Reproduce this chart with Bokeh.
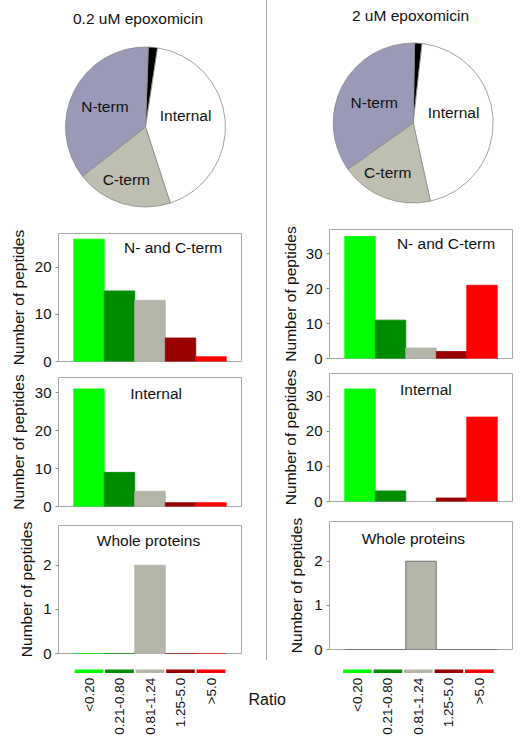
import math
from bokeh.plotting import figure
from bokeh.layouts import row, column
from bokeh.models import Range1d, FixedTicker, Div
from bokeh.core.properties import value
from bokeh.embed import file_html
from bokeh.resources import INLINE

FONT = "Liberation Sans"

# ---------------- data ----------------
ratio_bins = ["<0.20", "0.21-0.80", "0.81-1.24", "1.25-5.0", ">5.0"]
bin_colors = ["#00FF00", "#008C00", "#B4B4A9", "#990000", "#FF0000"]

titles = ["0.2 uM epoxomicin", "2 uM epoxomicin"]

# pie slices, clockwise from the top
pie_names = ["Whole proteins", "Internal", "C-term", "N-term"]
pie_shown = ["", "Internal", "C-term", "N-term"]
pie_colors = ["#000000", "#FFFFFF", "#BEBEB1", "#9A9AB8"]
pie_low = [2, 46, 21, 39]
pie_high = [2, 60, 25, 47]

panel_names = ["N- and C-term", "Internal", "Whole proteins"]
nc_low = [26, 15, 13, 5, 1]
internal_low = [31, 9, 4, 1, 1]
whole_low = [0, 0, 2, 0, 0]
nc_high = [35, 11, 3, 2, 21]
internal_high = [32, 3, 0, 1, 24]
whole_high = [0, 0, 2, 0, 0]

y_label = "Number of peptides"
x_label = "Ratio"

TXT = "#111111"

# ---------------- helpers ----------------
def make_pie(w, h, bl, br, cx, cy, r, start_deg, counts, title, title_xy,
             lab_frac, lab_nudge):
    p = figure(width=w, height=h, x_range=Range1d(bl, w - br), y_range=Range1d(0, h),
               min_border_left=bl, min_border_right=br, min_border_top=0,
               min_border_bottom=0, x_axis_type=None, y_axis_type=None,
               toolbar_location=None, output_backend="svg", outline_line_color=None)
    total = float(sum(counts))
    k = 2 * math.pi / total
    th0 = math.radians(90 + start_deg)
    starts, ends = [], []
    cum = 0
    for c in counts:
        starts.append(th0 - cum * k)
        cum += c
        ends.append(th0 - cum * k)
    p.wedge(x=cx, y=cy, radius=r, start_angle=starts, end_angle=ends,
            direction="clock", fill_color=pie_colors, line_color="#8A8A8A",
            line_width=0.8)
    lx, ly, lt = [], [], []
    for i, name in enumerate(pie_shown):
        if not name:
            continue
        mid = (starts[i] + ends[i]) / 2 + math.radians(lab_nudge[i])
        lx.append(cx + lab_frac[i] * r * math.cos(mid))
        ly.append(cy + lab_frac[i] * r * math.sin(mid))
        lt.append(name)
    p.text(x=lx, y=ly, text=lt, text_font=value(FONT), text_font_size="15.5px",
           text_align="center", text_baseline="middle", text_color=TXT)
    p.text(x=[title_xy[0]], y=[title_xy[1]], text=[title], text_font=value(FONT),
           text_font_size="15.5px", text_align="center", text_baseline="middle",
           text_color=TXT)
    return p


def make_bar(w, h, bl, br, bt, bb, counts, ymax, ticks, label, label_xy,
             standoff, line_colors=None):
    p = figure(width=w, height=h, x_range=Range1d(0, 6), y_range=Range1d(0, ymax),
               min_border_left=bl, min_border_right=br, min_border_top=bt,
               min_border_bottom=bb, x_axis_type=None, toolbar_location=None,
               output_backend="svg")
    p.outline_line_color = "#A8A8A8"
    p.outline_line_width = 1
    p.grid.visible = False
    ax = p.yaxis[0]
    ax.ticker = FixedTicker(ticks=ticks)
    ax.minor_tick_line_color = None
    ax.axis_line_color = None
    ax.major_tick_out = 3
    ax.major_tick_in = 0
    ax.major_tick_line_color = "#909090"
    ax.major_label_standoff = 4
    ax.major_label_text_font = FONT
    ax.major_label_text_font_size = "15px"
    ax.major_label_text_color = TXT
    ax.axis_label = y_label
    ax.axis_label_text_font = FONT
    ax.axis_label_text_font_size = "15.5px"
    ax.axis_label_text_font_style = "normal"
    ax.axis_label_text_color = TXT
    ax.axis_label_standoff = standoff
    xs = [i + 1 for i in range(len(counts))]
    p.vbar(x=xs, top=counts, bottom=0, width=1, fill_color=bin_colors,
           line_color=line_colors if line_colors else bin_colors, line_width=0.8)
    p.text(x=[label_xy[0]], y=[label_xy[1]], text=[label], text_font=value(FONT),
           text_font_size="15.5px", text_align="center", text_baseline="middle",
           text_color=TXT)
    return p

# ---------------- left column ----------------
LW, RW = 266, 258
LBL, LBR = 58, 25
RBL, RBR = 62, 13
lp = make_pie(LW, 222, LBL, LBR, 145, 95.5, 80, -2, pie_low, titles[0], (137.5, 204),
              [0, 0.52, 0.70, 0.57], [0, 11, -3, 0])
lb1 = make_bar(LW, 147, LBL, LBR, 11, 8, nc_low, 27.2, [0, 10, 20],
               panel_names[0], (3.76, 24.2), 5)
lb2 = make_bar(LW, 146, LBL, LBR, 8, 9, internal_low, 34, [0, 10, 20, 30],
               panel_names[1], (3.2, 29.8), 5)
lb3 = make_bar(LW, 147, LBL, LBR, 10, 9, whole_low, 2.9, [0, 1, 2],
               panel_names[2], (2.95, 2.56), 5)
left_col = column(lp, lb1, lb2, lb3)

# ---------------- right column ----------------
rp = make_pie(RW, 220, RBL, RBR, 145.7, 97.5, 80, -1, pie_high, titles[1], (143, 205),
              [0, 0.52, 0.70, 0.55], [0, 11, -6, 0])
rb1 = make_bar(RW, 146, RBL, RBR, 9, 8, nc_high, 37, [0, 10, 20, 30],
               panel_names[0], (3.82, 32.9), 4)
rb2 = make_bar(RW, 143, RBL, RBR, 7, 8, internal_high, 36.4, [0, 10, 20, 30],
               panel_names[1], (3.16, 31.9), 4)
rb3 = make_bar(RW, 153, RBL, RBR, 12, 13, whole_high, 2.9, [0, 1, 2],
               panel_names[2], (2.75, 2.51), 6,
               line_colors=["#5A5A5A"] * 5)
right_col = column(rp, rb1, rb2, rb3)

divider = Div(width=1, height=660, margin=0,
              styles={"background-color": "#A8A8A8"})

top = row(left_col, divider, right_col)

# ---------------- ratio legend ----------------
BW, BH = 525, 81
unit = 183 / 6.0
x_start = -LBL / unit
x_end = (BW - LBL) / unit
right_off = 8.80
bot = figure(width=BW, height=BH, x_range=Range1d(x_start, x_end),
             y_range=Range1d(-BH, 0), min_border_left=0, min_border_right=0,
             min_border_top=0, min_border_bottom=0, x_axis_type=None,
             y_axis_type=None, toolbar_location=None, output_backend="svg",
             outline_line_color=None)
gap = 0.03
for off in (0, right_off):
    idx = list(range(len(ratio_bins)))
    bot.quad(left=[i + 0.5 + off + gap for i in idx],
             right=[i + 1.5 + off - gap for i in idx],
             top=-6.9, bottom=-10.5, fill_color=bin_colors, line_color=None)
    bot.text(x=[i + 1 + off for i in idx], y=-15.3, text=ratio_bins,
             angle=math.pi / 2, text_align="right", text_baseline="middle",
             text_font=value(FONT), text_font_size="13.5px", text_color=TXT)
bot.text(x=[(266.7 - LBL) / unit], y=[-37.3], text=[x_label], text_font=value(FONT),
         text_font_size="16px", text_align="center", text_baseline="middle",
         text_color=TXT)

page = column(top, bot)

with open("out.html", "w") as f:
    f.write(file_html(page, INLINE))
